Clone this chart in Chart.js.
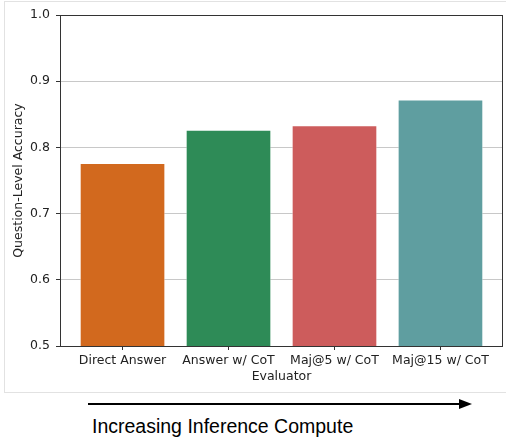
<!DOCTYPE html>
<html>
<head>
<meta charset="utf-8">
<script src="https://cdn.jsdelivr.net/npm/chart.js@4/dist/chart.umd.min.js"></script>
<style>
  body { margin: 0; background: #fff; width: 506px; height: 439px; position: relative; overflow: hidden; }
  #frame { position: absolute; left: 4px; top: 1px; width: 520px; height: 390px; border: 1px solid #e2e2e2; }
  #wrap { position: absolute; left: 0; top: 0; width: 506px; height: 392px; }
  #arrow { position: absolute; left: 88px; top: 403px; width: 372px; height: 2px; background: #000; }
  #head { position: absolute; left: 459px; top: 399px; width: 0; height: 0;
          border-top: 5px solid transparent; border-bottom: 5px solid transparent; border-left: 13px solid #000; }
  #caption { position: absolute; left: 92px; top: 415px; font-family: "Liberation Sans", Arial, sans-serif;
             font-size: 19.5px; color: #000; white-space: nowrap; }
</style>
</head>
<body>
<div id="frame"></div>
<div id="wrap"><canvas id="barChart"></canvas></div>
<div id="arrow"></div>
<div id="head"></div>
<div id="caption">Increasing Inference Compute</div>
<script>
const categories = ['Direct Answer', 'Answer w/ CoT', 'Maj@5 w/ CoT', 'Maj@15 w/ CoT'];
const accuracy = [0.776, 0.826, 0.833, 0.872];
const barColors = ['#D2691E', '#2E8B57', '#CD5C5C', '#5F9EA0'];
const yTicks = [0.5, 0.6, 0.7, 0.8, 0.9, 1.0];

const tickFont = { family: 'DejaVu Sans', size: 12.5 };

// box around the plot area, like matplotlib spines
const frameBox = {
    id: 'frameBox',
    afterDraw(chart) {
        const { ctx, chartArea: a } = chart;
        ctx.save();
        ctx.strokeStyle = '#333';
        ctx.lineWidth = 1;
        ctx.strokeRect(a.left + 0.5, a.top + 0.5, a.right - a.left - 1, a.bottom - a.top);
        ctx.restore();
    }
};

const ctx = document.getElementById('barChart').getContext('2d');
new Chart(ctx, {
    type: 'bar',
    data: {
        datasets: [{
            data: accuracy.map((v, i) => ({ x: i, y: v })),
            backgroundColor: barColors,
            borderColor: 'rgba(255,255,255,0.35)',
            borderWidth: 1,
            barThickness: 85
        }]
    },
    plugins: [frameBox],
    options: {
        responsive: true,
        maintainAspectRatio: false,
        animation: false,
        layout: { padding: { top: 15, right: 3, left: 0, bottom: 0 } },
        plugins: { legend: { display: false }, tooltip: { enabled: false } },
        scales: {
            x: {
                type: 'linear',
                offset: false,
                min: -0.59,
                max: 3.59,
                afterBuildTicks: (scale) => { scale.ticks = categories.map((c, i) => ({ value: i })); },
                afterFit: (scale) => { scale.height = 46; },
                grid: { offset: false, drawOnChartArea: false, drawTicks: true, tickLength: 4, tickColor: '#333' },
                border: { display: false },
                ticks: {
                    autoSkip: false,
                    maxRotation: 0,
                    padding: 3,
                    color: '#222',
                    font: tickFont,
                    callback: (v) => categories[v]
                },
                title: { display: true, text: 'Evaluator', color: '#222', font: tickFont, padding: { top: 0, bottom: 8 } }
            },
            y: {
                min: 0.5,
                max: 1.0,
                afterBuildTicks: (scale) => { scale.ticks = yTicks.map(v => ({ value: v })); },
                afterFit: (scale) => { scale.width = 60; },
                grid: { color: '#c8c8c8', lineWidth: 1, tickLength: 4, tickColor: '#333' },
                border: { display: false },
                ticks: {
                    padding: 6,
                    color: '#222',
                    font: tickFont,
                    callback: (v) => v.toFixed(1)
                },
                title: { display: true, text: 'Question-Level Accuracy', color: '#222', font: tickFont, padding: { top: 11, bottom: 0 } }
            }
        }
    }
});
</script>
</body>
</html>
